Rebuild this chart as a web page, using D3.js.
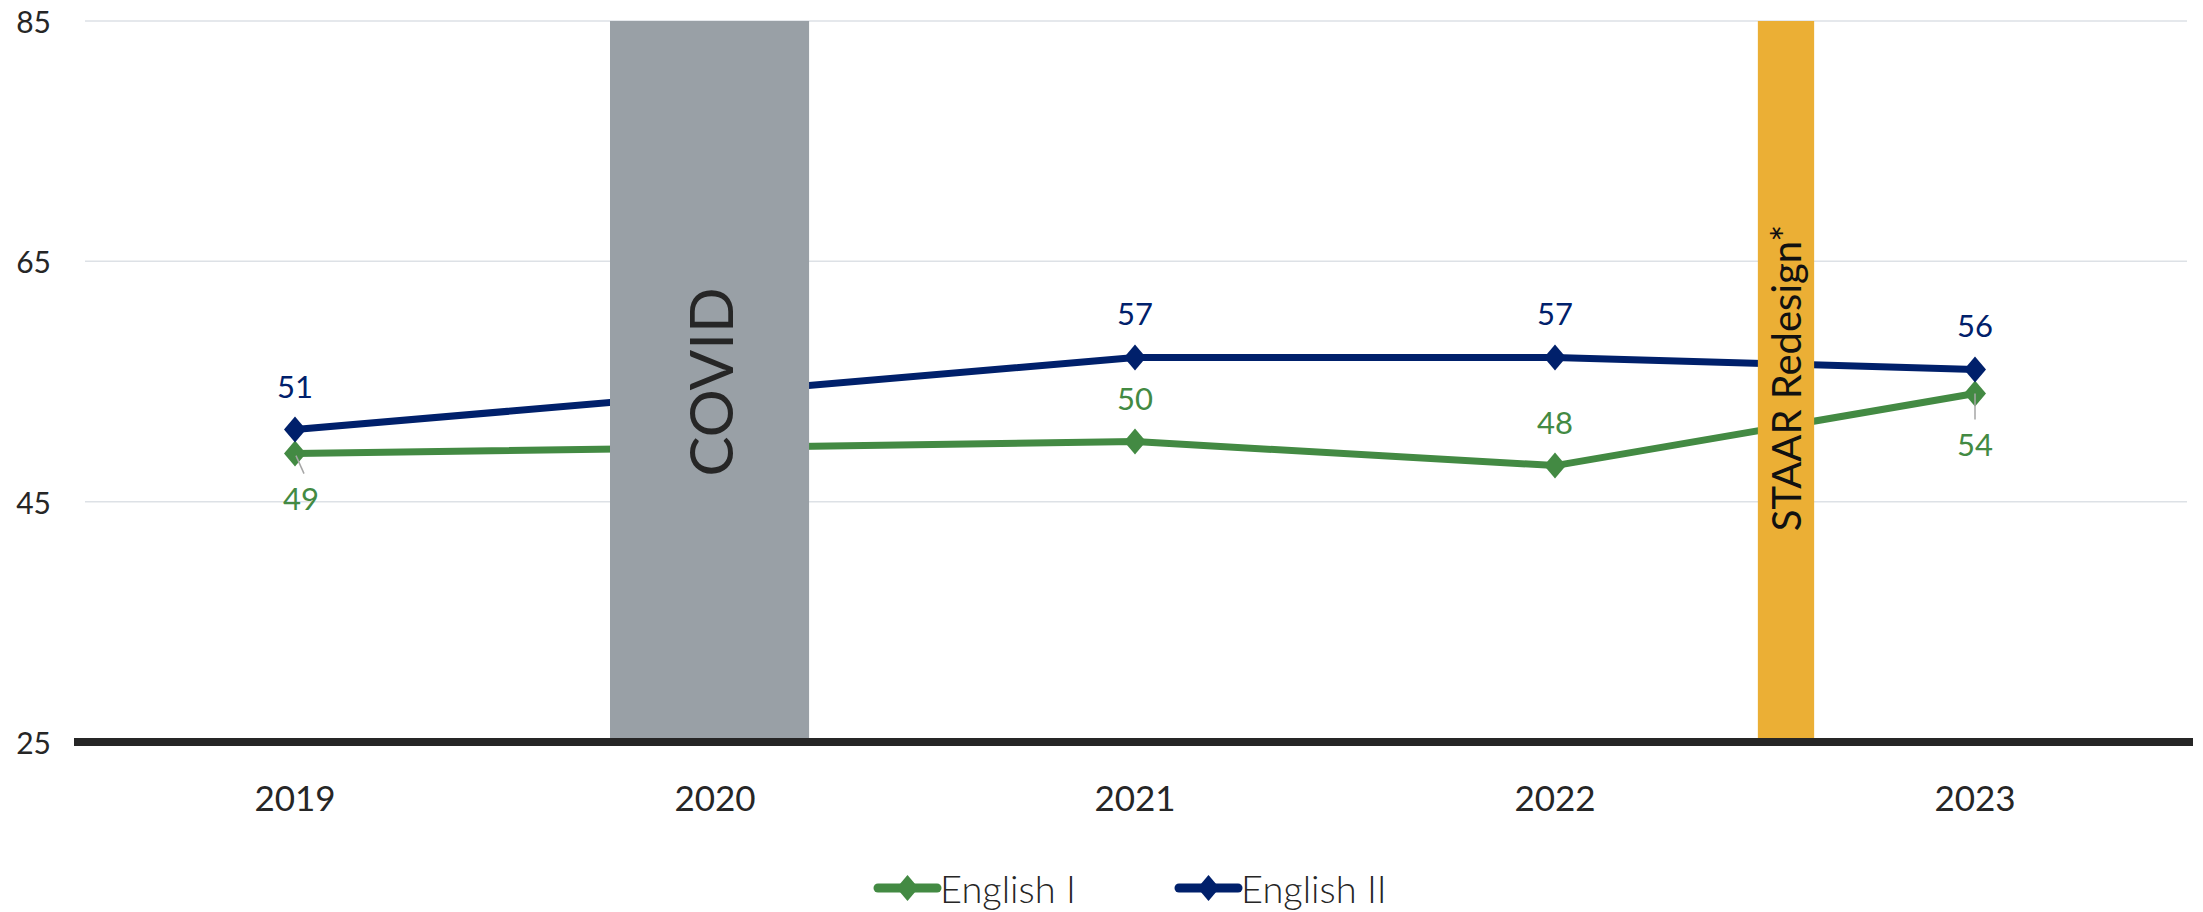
<!DOCTYPE html>
<html><head><meta charset="utf-8">
<script src="https://cdn.jsdelivr.net/npm/d3@7/dist/d3.min.js"></script>
<style>body{margin:0;background:#fff}svg{display:block}text{font-family:Lato,"Open Sans",sans-serif}</style>
</head><body>
<svg id="c" width="2203" height="912"></svg>
<script>
const years = ["2019","2020","2021","2022","2023"];
const english1 = [49, null, 50, 48, 54];
const english2 = [51, null, 57, 57, 56];
const seriesNames = ["English I","English II"];
const seriesColors = ["#438a43","#00206b"];
// label placement: 1 = above, -1 = below
const labelPos1 = [-1, 0, 1, 1, -1];
const labelPos2 = [1, 0, 1, 1, 1];
const yTicks = [25, 45, 65, 85];
// annotation bands in category-index units
const bands = [
  {label:"COVID", from:0.75, to:1.224, fill:"#99a0a6", size:60, color:"#262626", weight:400},
  {label:"STAAR Redesign*", from:3.483, to:3.617, fill:"#ebaf35", size:40, color:"#111", weight:400}
];

(function(){
const svg = d3.select("#c");
const pLeft = 85, pRight = 2185, pTop = 21, pBottom = 742;
const x = d3.scalePoint().domain(years).range([pLeft, pRight]).padding(0.5);
const xi = d3.scaleLinear().domain([-0.5, years.length - 0.5]).range([pLeft, pRight]);
const y = d3.scaleLinear().domain([25, 85]).range([pBottom, pTop]);

svg.append("g").selectAll("line").data(yTicks.filter(t => t > 25)).join("line")
  .attr("x1", pLeft).attr("x2", pRight + 2)
  .attr("y1", d => y(d)).attr("y2", d => y(d))
  .attr("stroke", "#dde1e6").attr("stroke-width", 1.5);

svg.append("g").selectAll("text").data(yTicks).join("text")
  .attr("x", 51).attr("y", d => y(d)).attr("text-anchor", "end")
  .attr("dominant-baseline", "central").attr("font-size", 30).attr("fill", "#262626")
  .text(d => d);

const lineGen = d3.line().x(d => x(d.year)).y(d => y(d.v));
const series = [english1, english2].map((arr, i) => ({
  name: seriesNames[i], color: seriesColors[i],
  pts: arr.map((v, j) => ({year: years[j], v})).filter(d => d.v != null),
  pos: i === 0 ? labelPos1 : labelPos2, raw: arr
}));
series.forEach(s => {
  svg.append("path").datum(s.pts).attr("d", lineGen).attr("fill", "none")
    .attr("stroke", s.color).attr("stroke-width", 7).attr("stroke-linejoin", "round");
});

bands.forEach(b => {
  const x0 = xi(b.from), x1 = xi(b.to);
  svg.append("rect").attr("x", x0).attr("y", pTop).attr("width", x1 - x0).attr("height", pBottom - pTop).attr("fill", b.fill);
});

const diamond = "M0,-13 L11,0 L0,13 L-11,0 Z";
series.forEach(s => {
  svg.append("g").selectAll("path").data(s.pts).join("path")
    .attr("d", diamond).attr("transform", d => `translate(${x(d.year)},${y(d.v)})`)
    .attr("fill", s.color);
});
series.forEach(s => {
  s.raw.forEach((v, j) => {
    if (v == null) return;
    const px = x(years[j]), py = y(v), dir = s.pos[j];
    let ly = py - dir * 44, lx = px;
    if (dir < 0) {
      if (j === 0) {
        lx = px + 6;
        svg.append("line").attr("x1", px + 1).attr("y1", py + 2).attr("x2", px + 9).attr("y2", py + 20)
          .attr("stroke", "#a6a6a6").attr("stroke-width", 1.5);
      } else {
        ly = py + 50;
        svg.append("line").attr("x1", px).attr("y1", py).attr("x2", px).attr("y2", py + 26)
          .attr("stroke", "#a6a6a6").attr("stroke-width", 1.5);
      }
    }
    svg.append("text").attr("x", lx).attr("y", ly)
      .attr("text-anchor", "middle").attr("dominant-baseline", "central")
      .attr("font-size", 31).attr("fill", s.color).text(v);
  });
});

bands.forEach(b => {
  const cx = (xi(b.from) + xi(b.to)) / 2;
  const cy = b.label === "COVID" ? 382 : 378;
  svg.append("text").attr("transform", `translate(${cx},${cy}) rotate(-90)`)
    .attr("text-anchor", "middle").attr("dominant-baseline", "central")
    .attr("font-size", b.size).attr("font-weight", b.weight).attr("fill", b.color).text(b.label);
});

svg.append("line").attr("x1", 74).attr("x2", 2193).attr("y1", y(25)).attr("y2", y(25))
  .attr("stroke", "#262626").attr("stroke-width", 8);

svg.append("g").selectAll("text").data(years).join("text")
  .attr("x", d => x(d)).attr("y", 797).attr("text-anchor", "middle")
  .attr("dominant-baseline", "central").attr("font-size", 35).attr("fill", "#262626").text(d => d);

const legX = [878, 1179];
series.forEach((s, i) => {
  const g = svg.append("g").attr("transform", `translate(${legX[i]},888)`);
  g.append("line").attr("x1", 0).attr("x2", 59).attr("stroke", s.color).attr("stroke-width", 9).attr("stroke-linecap", "round");
  g.append("path").attr("d", diamond).attr("transform", "translate(29.5,0)").attr("fill", s.color);
  g.append("text").attr("x", 62).attr("y", 0).attr("dominant-baseline", "central")
    .attr("font-size", 38).attr("font-weight", 300).attr("fill", "#262626").text(s.name);
});
})();
</script>
</body></html>
